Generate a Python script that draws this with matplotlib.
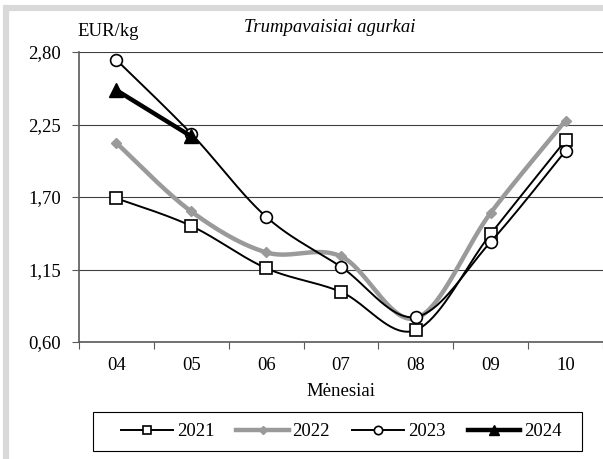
import numpy as np
import matplotlib
matplotlib.use('Agg')
import matplotlib.pyplot as plt
from matplotlib.patches import Rectangle

# ── DATA ──────────────────────────────────────────────────────────────────────
months = ['04', '05', '06', '07', '08', '09', '10']
years = ['2021', '2022', '2023', '2024']
p2021 = [1.69, 1.48, 1.16, 0.98, 0.69, 1.42, 2.13]
p2022 = [2.11, 1.59, 1.28, 1.25, 0.78, 1.58, 2.28]
p2023 = [2.74, 2.18, 1.55, 1.17, 0.79, 1.36, 2.05]
p2024 = [2.51, 2.16]
y_ticks = [0.60, 1.15, 1.70, 2.25, 2.80]

plt.rcParams['font.family'] = ['Liberation Serif', 'DejaVu Serif']
FS = 13.5


def smooth(x, y, n=40):
    # Excel-style smoothed line (cubic Bezier through the points)
    pts = np.column_stack([x, y]).astype(float)
    if len(pts) < 3:
        return pts
    P = np.vstack([pts[0], pts, pts[-1]])
    t = np.linspace(0, 1, n)[:, None]
    segs = []
    for i in range(1, len(P) - 2):
        p0, p1, p2, p3 = P[i - 1], P[i], P[i + 1], P[i + 2]
        c1 = p1 + (p2 - p0) / 6
        c2 = p2 - (p3 - p1) / 6
        segs.append((1 - t) ** 3 * p1 + 3 * (1 - t) ** 2 * t * c1
                    + 3 * (1 - t) * t ** 2 * c2 + t ** 3 * p2)
    return np.vstack(segs)


fig = plt.figure(figsize=(6.03, 4.59), dpi=100)
ax = fig.add_axes([79 / 603, 1 - 342 / 459, 524 / 603, 290 / 459])

series = [
    (p2021, dict(color='black', lw=1.4), dict(marker='s', mfc='white', mec='black', mew=1.2), 8.5, 6),
    (p2022, dict(color='#9a9a9a', lw=3.2), dict(marker='D', mfc='#9a9a9a', mec='#9a9a9a'), 5, 4),
    (p2023, dict(color='black', lw=1.4), dict(marker='o', mfc='white', mec='black', mew=1.2), 8.5, 6),
    (p2024, dict(color='black', lw=3.2), dict(marker='^', mfc='black', mec='black'), 10, 7),
]

handles = []
for i, (vals, lstyle, mstyle, ms, ms_leg) in enumerate(series):
    x = np.arange(len(vals))
    s = smooth(x, vals)
    ax.plot(s[:, 0], s[:, 1], zorder=3 + i, solid_capstyle='round', **lstyle)
    ax.plot(x, vals, ls='none', ms=ms, zorder=3 + i, **mstyle)
    h, = ax.plot([], [], ms=ms_leg, **lstyle, **mstyle)
    handles.append(h)

ax.set_xlim(-0.5, len(months) - 0.5)
ax.set_ylim(y_ticks[0], y_ticks[-1])
ax.set_yticks(y_ticks)
ax.set_yticklabels([f'{v:.2f}'.replace('.', ',') for v in y_ticks], fontsize=FS)
ax.set_xticks(np.arange(-0.5, len(months), 1.0))
ax.set_xticklabels([])
ax.set_xticks(np.arange(len(months)), minor=True)
ax.set_xticklabels(months, minor=True, fontsize=FS)
ax.tick_params(axis='x', which='major', direction='out', length=5, color='#595959')
ax.tick_params(axis='x', which='minor', length=0, pad=10.5)
ax.tick_params(axis='y', direction='out', length=5, color='#595959', pad=8)

ax.grid(axis='y', color='#404040', lw=0.8)
ax.set_axisbelow(True)
for sp in ['top', 'right']:
    ax.spines[sp].set_visible(False)
for sp in ['left', 'bottom']:
    ax.spines[sp].set_color('#595959')
    ax.spines[sp].set_linewidth(1.2)

fig.text(341 / 603, 1 - 391 / 459, 'Mėnesiai', fontsize=FS, ha='center', va='center')
fig.text(77 / 603, 1 - 31 / 459, 'EUR/kg', fontsize=FS, ha='left', va='center')
fig.text(330 / 603, 1 - 27 / 459, 'Trumpavaisiai agurkai', fontsize=FS,
         style='italic', ha='center', va='center')

leg = fig.legend(handles, years, loc='center', ncol=4,
                 bbox_to_anchor=(341 / 603, 1 - 431.5 / 459), fontsize=FS,
                 frameon=False, handlelength=2.8, handletextpad=0.2,
                 columnspacing=1.17, borderpad=0, borderaxespad=0, numpoints=1)

# legend frame (wider than matplotlib's padding allows)
fig.add_artist(Rectangle((93 / 603, 1 - 451 / 459), 489 / 603, 39 / 459,
                         transform=fig.transFigure, fill=False,
                         edgecolor='black', lw=0.8))

# grey frame around the chart area
fig.add_artist(Rectangle((6 / 603, -0.1), 1.2, 1 - 8 / 459 + 0.1,
                         transform=fig.transFigure, fill=False,
                         edgecolor='#d9d9d9', lw=4.5))

fig.savefig('out.png', dpi=100)
